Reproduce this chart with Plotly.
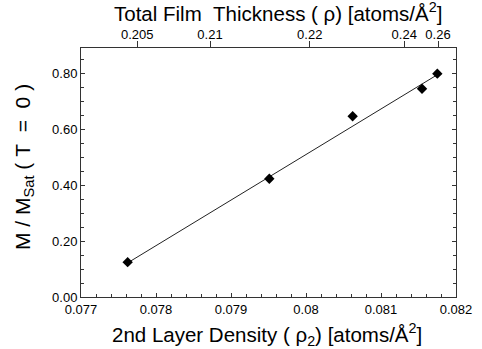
import plotly.graph_objects as go

# data
rho2 = [0.077622, 0.079511, 0.080622, 0.081547, 0.081751]
m_ratio = [0.125, 0.424, 0.648, 0.747, 0.801]

fit_x = [0.07762, 0.08175]
fit_y = [0.122, 0.797]

bottom_ticks = [0.077, 0.078, 0.079, 0.080, 0.081, 0.082]
bottom_labels = ["0.077", "0.078", "0.079", "0.08", "0.081", "0.082"]
y_ticks = [0.0, 0.2, 0.4, 0.6, 0.8]
y_labels = ["0.00", "0.20", "0.40", "0.60", "0.80"]
top_tick_pos = [0.07775, 0.07872, 0.08005, 0.08131, 0.08176]
top_labels = ["0.205", "0.21", "0.22", "0.24", "0.26"]

NB = "\u00a0"
x_title = "2nd Layer Density ( ρ<sub>2</sub>) [atoms/Å<sup>2</sup>]"
top_title = f"Total Film{NB}{NB}Thickness ( ρ) [atoms/Å<sup>2</sup>]"
y_title = f"M{NB}/{NB}M<sub>Sat</sub> ({NB}T{NB}{NB}={NB}{NB}0{NB})"

FONT = "Liberation Sans, Arial, Helvetica, sans-serif"
AX = "#333333"

fig = go.Figure()
fig.add_trace(go.Scatter(x=fit_x, y=fit_y, mode="lines",
                         line=dict(color="#222222", width=1), showlegend=False,
                         hoverinfo="skip"))
fig.add_trace(go.Scatter(x=rho2, y=m_ratio, mode="markers",
                         marker=dict(symbol="diamond", size=8, color="black"),
                         showlegend=False))
fig.add_trace(go.Scatter(x=fit_x, y=fit_y, xaxis="x2", mode="lines",
                         line=dict(width=0), opacity=0, showlegend=False,
                         hoverinfo="skip"))

fig.update_layout(
    width=482, height=349,
    margin=dict(l=81, r=26, t=48, b=52),
    paper_bgcolor="white", plot_bgcolor="white",
    font=dict(family=FONT, color="black", size=13),
    xaxis=dict(
        range=[0.077, 0.082], tickvals=bottom_ticks, ticktext=bottom_labels,
        showgrid=False, zeroline=False, showline=True, linecolor=AX, linewidth=1,
        mirror=True, ticks="inside", ticklen=4, tickcolor=AX,
        minor=dict(dtick=0.0002, ticks="inside", ticklen=3, tickcolor=AX),
        tickfont=dict(size=13), automargin=False,
    ),
    xaxis2=dict(
        overlaying="x", side="top", range=[0.077, 0.082],
        tickvals=top_tick_pos, ticktext=top_labels,
        showgrid=False, zeroline=False, showline=False,
        ticks="outside", ticklen=6, tickcolor=AX, ticklabelstandoff=-3,
        tickfont=dict(size=13), automargin=False,
    ),
    yaxis=dict(
        range=[0, 0.893], tickvals=y_ticks, ticktext=y_labels,
        showgrid=False, zeroline=False, showline=True, linecolor=AX, linewidth=1,
        mirror="ticks", ticks="inside", ticklen=4, tickcolor=AX,
        minor=dict(dtick=0.05, ticks="inside", ticklen=3, tickcolor=AX),
        tickfont=dict(size=13), automargin=False,
    ),
    annotations=[
        dict(text=top_title, xref="paper", yref="paper", x=0.525, y=1.145,
             xanchor="center", yanchor="middle", showarrow=False,
             font=dict(size=20.5)),
        dict(text=x_title, xref="paper", yref="paper", x=0.495, y=-0.152,
             xanchor="center", yanchor="middle", showarrow=False,
             font=dict(size=20.5)),
        dict(text=y_title, xref="paper", yref="paper", x=-0.152, y=0.522,
             xanchor="center", yanchor="middle", showarrow=False, textangle=-90,
             font=dict(size=21)),
    ],
)

fig.write_html("out.html", config={"displayModeBar": False},
               post_script="document.body.style.margin='0px';")
